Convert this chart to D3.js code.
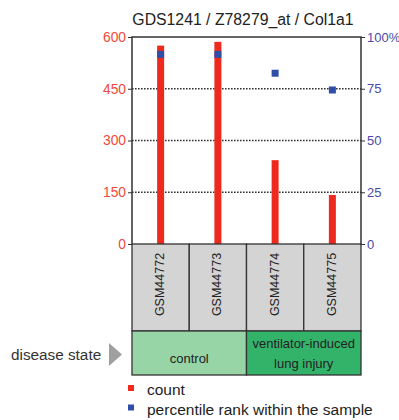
<!DOCTYPE html>
<html>
<head>
<meta charset="utf-8">
<script src="https://cdn.jsdelivr.net/npm/d3@7"></script>
<style>
  body { margin: 0; background: #fff; }
  svg { font-family: Arial, "Liberation Sans", sans-serif; }
</style>
</head>
<body>
<div id="chart"></div>
<script>
// chart values
let samples = ['GSM44772', 'GSM44773', 'GSM44774', 'GSM44775']
let counts = [575, 586, 243, 142]
let percentiles = [91.6, 91.6, 82.5, 74.4]
let countTicks = [0, 150, 300, 450, 600]
let pctTicks = [0, 25, 50, 75, 100]
let groups = ['control', 'ventilator-induced lung injury']
let groupOf = [0, 0, 1, 1]
let groupColors = ['#97d4a6', '#33b36a']

let W = 399, H = 420
let plot = {left: 132, right: 361, top: 37, bottom: 244}
let font = 'Arial, "Liberation Sans", sans-serif'

let svg = d3.select('#chart').append('svg').attr('width', W).attr('height', H)

let x = d3.scaleBand().domain(samples).range([plot.left, plot.right])
let yL = d3.scaleLinear().domain([0, 600]).range([plot.bottom, plot.top])
let yR = d3.scaleLinear().domain([0, 100]).range([plot.bottom, plot.top])

// title
svg.append('text')
    .attr('x', 243).attr('y', 25)
    .attr('text-anchor', 'middle')
    .attr('font-size', 15.8)
    .attr('fill', '#222')
    .text('GDS1241 / Z78279_at / Col1a1')

// dotted gridlines
svg.append('g').selectAll('line')
    .data(countTicks.filter(d => d > 0 && d < 600))
    .enter().append('line')
    .attr('x1', plot.left).attr('x2', plot.right)
    .attr('y1', d => yL(d)).attr('y2', d => yL(d))
    .attr('stroke', '#333').attr('stroke-width', 1.4)
    .attr('stroke-dasharray', '1.6,1.4')

// left axis
let axL = svg.append('g')
    .attr('transform', `translate(${plot.left},0)`)
    .call(d3.axisLeft(yL).tickValues(countTicks).tickSize(4).tickPadding(2))
axL.select('.domain').remove()
axL.selectAll('line').attr('stroke', '#333')
axL.selectAll('text').attr('fill', '#f04a3a').attr('font-size', 13.8).attr('font-family', font)

// right axis
let axR = svg.append('g')
    .attr('transform', `translate(${plot.right},0)`)
    .call(d3.axisRight(yR).tickValues(pctTicks).tickSize(4).tickPadding(2)
        .tickFormat(d => d === 100 ? '100%' : d))
axR.select('.domain').remove()
axR.selectAll('line').attr('stroke', '#333')
axR.selectAll('text').attr('fill', '#4a4aa8').attr('font-size', 13).attr('font-family', font)

// frame
svg.append('path')
    .attr('d', `M${plot.left},${plot.bottom}V${plot.top}H${plot.right}V${plot.bottom}`)
    .attr('fill', 'none').attr('stroke', '#333').attr('stroke-width', 1.5)

// count bars
svg.append('g').selectAll('rect')
    .data(samples)
    .enter().append('rect')
    .attr('x', d => x(d) + x.bandwidth() / 2 - 3.5)
    .attr('width', 7)
    .attr('y', (d, i) => yL(counts[i]))
    .attr('height', (d, i) => plot.bottom - yL(counts[i]))
    .attr('fill', '#ee2a1e')

// percentile markers
svg.append('g').selectAll('rect')
    .data(samples)
    .enter().append('rect')
    .attr('x', d => x(d) + x.bandwidth() / 2 - 3.5)
    .attr('y', (d, i) => yR(percentiles[i]) - 3.5)
    .attr('width', 7).attr('height', 7)
    .attr('fill', '#2f4ea8')

// sample label boxes
let labBottom = 331
let lab = svg.append('g').selectAll('g')
    .data(samples)
    .enter().append('g')
lab.append('rect')
    .attr('x', d => x(d)).attr('y', plot.bottom)
    .attr('width', x.bandwidth()).attr('height', labBottom - plot.bottom)
    .attr('fill', '#d4d4d4').attr('stroke', '#333').attr('stroke-width', 1.3)
lab.append('text')
    .attr('transform', d => `translate(${x(d) + x.bandwidth() / 2 + 3.5},${plot.bottom + 40.5}) rotate(-90)`)
    .attr('text-anchor', 'middle')
    .attr('font-size', 12.5)
    .attr('fill', '#222')
    .text(d => d)

// disease state boxes
let grpTop = labBottom, grpBottom = 375
groups.forEach((g, gi) => {
    let members = samples.filter((s, i) => groupOf[i] === gi)
    let x0 = x(members[0]), x1 = x(members[members.length - 1]) + x.bandwidth()
    svg.append('rect')
        .attr('x', x0).attr('y', grpTop)
        .attr('width', x1 - x0).attr('height', grpBottom - grpTop)
        .attr('fill', groupColors[gi]).attr('stroke', '#333').attr('stroke-width', 1.3)
    let t = svg.append('text')
        .attr('text-anchor', 'middle')
        .attr('font-size', 13)
        .attr('fill', '#222')
    if (gi === 0) {
        t.attr('x', (x0 + x1) / 2).attr('y', 363).text(g)
    } else {
        t.append('tspan').attr('x', (x0 + x1) / 2).attr('y', 348).text('ventilator-induced')
        t.append('tspan').attr('x', (x0 + x1) / 2).attr('y', 368).text('lung injury')
    }
})

svg.append('text')
    .attr('x', 11).attr('y', 360)
    .attr('font-size', 15.3)
    .attr('fill', '#333')
    .text('disease state')
svg.append('path')
    .attr('d', 'M109,343L122,354.5L109,366Z')
    .attr('fill', '#a0a0a0')

// legend
let legend = [['count', '#ee2a1e'], ['percentile rank within the sample', '#2f4ea8']]
let lg = svg.append('g').selectAll('g')
    .data(legend)
    .enter().append('g')
    .attr('transform', (d, i) => `translate(128,${385 + i * 19.5})`)
lg.append('rect')
    .attr('width', 6).attr('height', 6)
    .attr('fill', d => d[1])
lg.append('text')
    .attr('x', 19).attr('y', 10)
    .attr('font-size', 15.5)
    .attr('fill', '#222')
    .text(d => d[0])
</script>
</body>
</html>
